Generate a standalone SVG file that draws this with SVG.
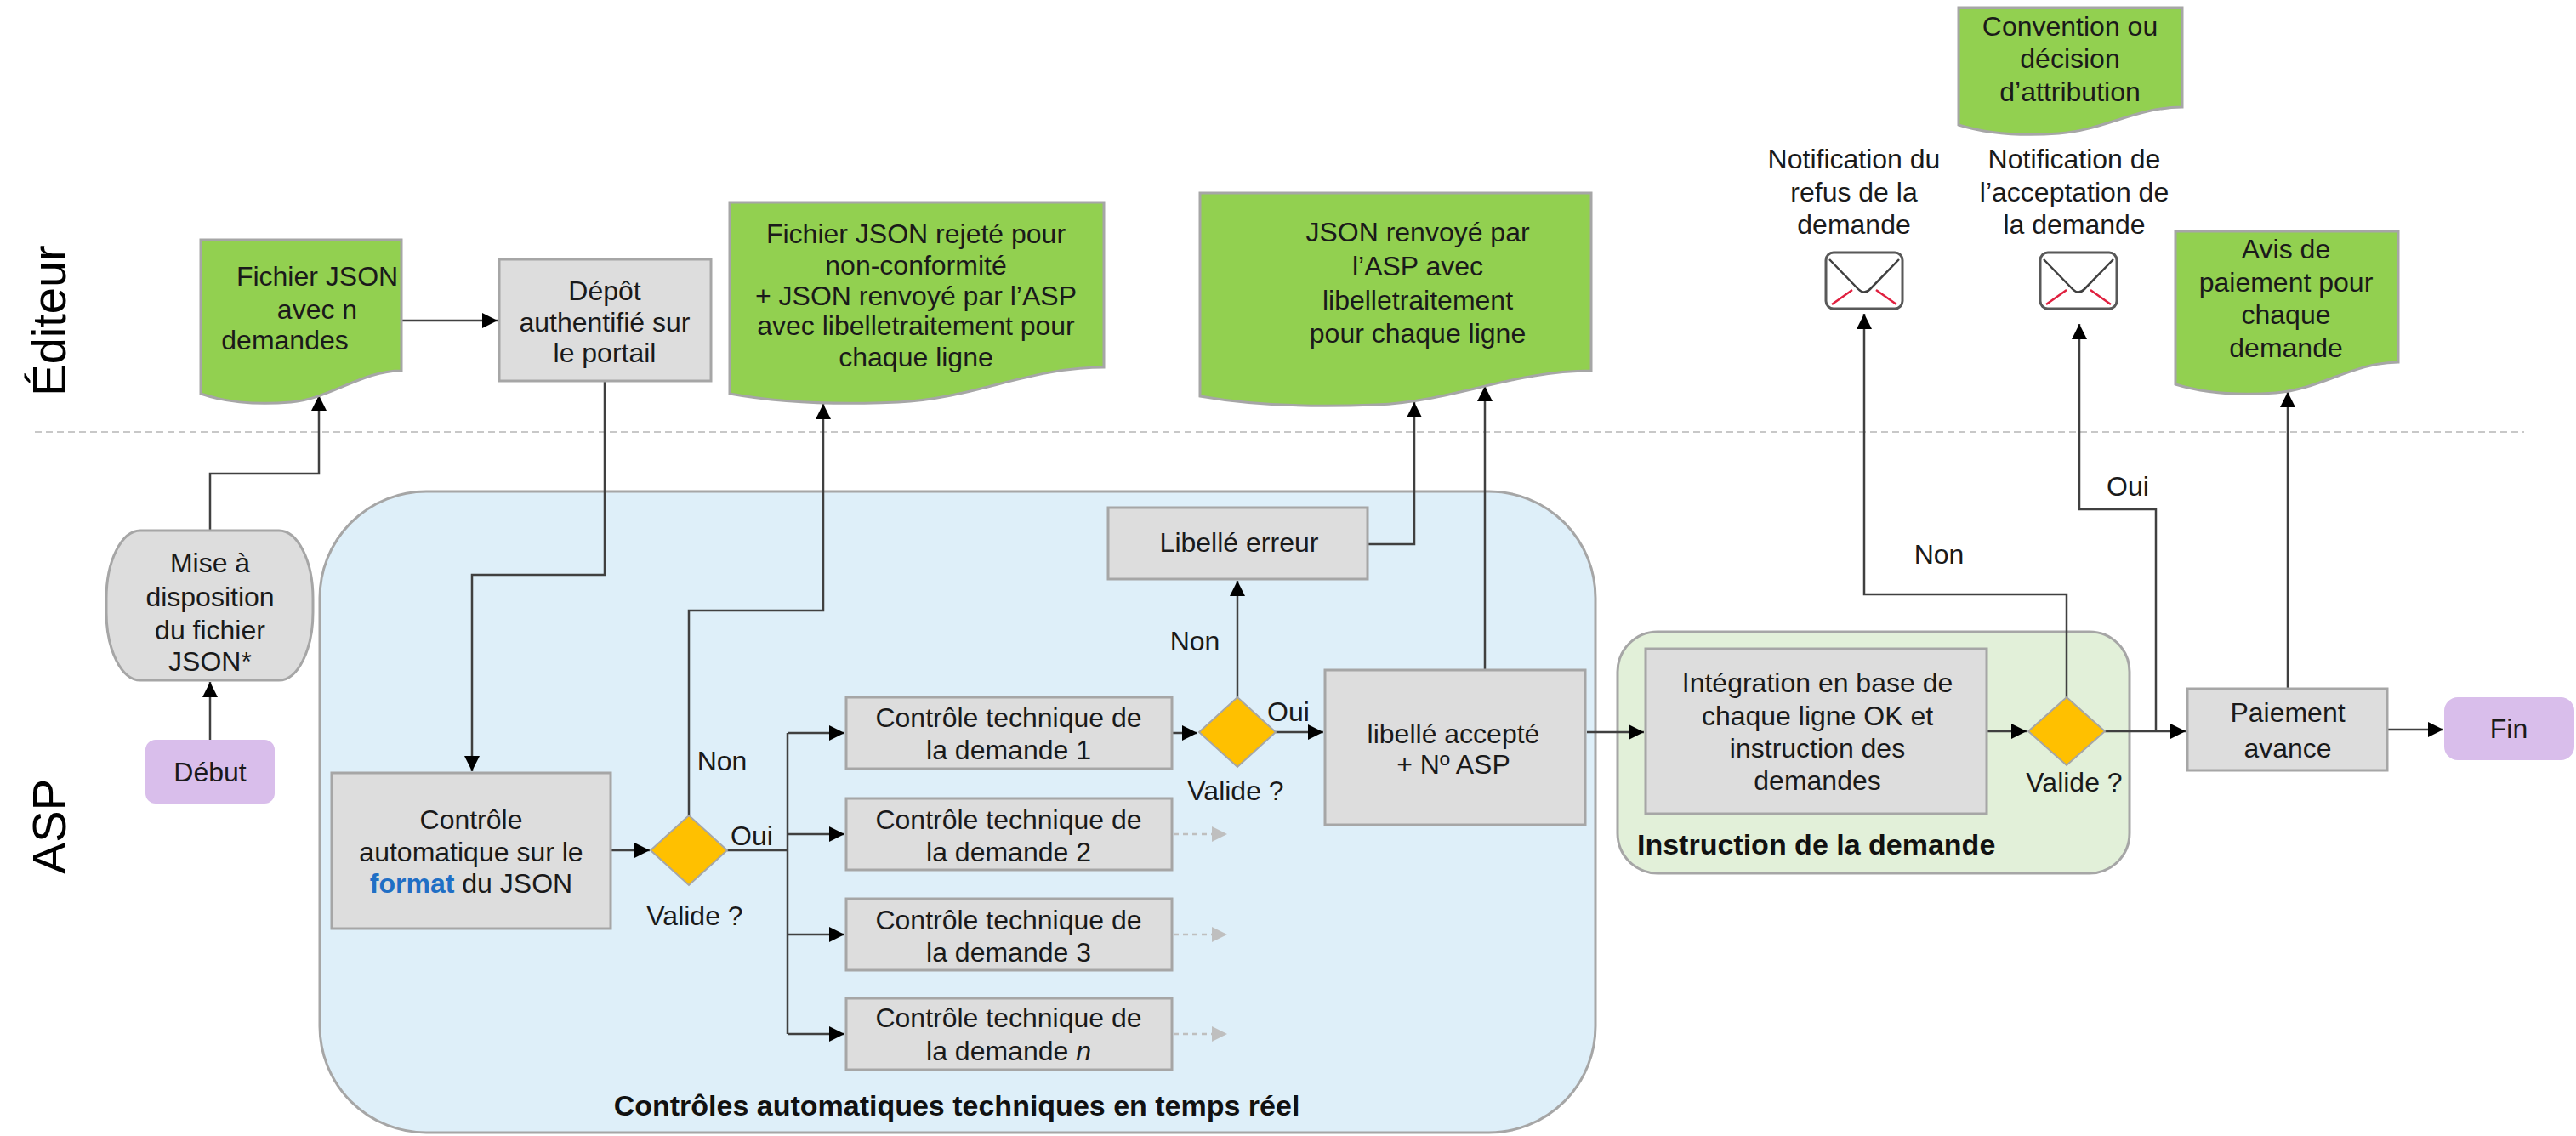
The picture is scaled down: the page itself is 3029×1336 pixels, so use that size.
<svg xmlns="http://www.w3.org/2000/svg" width="3029" height="1336" viewBox="0 0 3029 1336">
<defs>
<marker id="ah" viewBox="0 0 10 10" refX="10" refY="5" markerWidth="20" markerHeight="18" markerUnits="userSpaceOnUse" orient="auto"><path d="M0,0 L10,5 L0,10 z" fill="#000"/></marker>
<marker id="ahg" viewBox="0 0 10 10" refX="10" refY="5" markerWidth="20" markerHeight="18" markerUnits="userSpaceOnUse" orient="auto"><path d="M0,0 L10,5 L0,10 z" fill="#BFBFBF"/></marker>
</defs>
<style>
text{font-family:"Liberation Sans",Arial,sans-serif;font-size:32px;fill:#1a1a1a;text-anchor:middle}
.lane{font-size:56px;fill:#000}
.box{fill:#DDDDDD;stroke:#A6A6A6;stroke-width:3}
.doc{fill:#92D050;stroke:#A6A6A6;stroke-width:3}
.dia{fill:#FFC000;stroke:#A6A6A6;stroke-width:2}
.term{fill:#D9BEEB;stroke:#D9BEEB;stroke-width:2}
.ln{fill:none;stroke:#404040;stroke-width:2.5}
.arr{marker-end:url(#ah)}
.dot{fill:none;stroke:#BFBFBF;stroke-width:2.5;stroke-dasharray:6 5;marker-end:url(#ahg)}
.bold{font-weight:bold;fill:#111}
.env{fill:#fff;stroke:#595959;stroke-width:3}
.red{fill:none;stroke:#E0203F;stroke-width:2.5}
</style>
<rect width="3029" height="1336" fill="#fff"/>
<g id="lanes">
<text class="lane" transform="translate(77,377) rotate(-90)">Éditeur</text>
<text class="lane" transform="translate(77,972) rotate(-90)">ASP</text>
<line x1="41" y1="508" x2="2968" y2="508" stroke="#C8C8C8" stroke-width="2" stroke-dasharray="8 5"/>
</g>
<g id="container-controles">
<rect x="376" y="578" width="1500" height="754" rx="125" ry="125" fill="#DEEFF9" stroke="#A6A6A6" stroke-width="3"/>
<text class="bold" x="1125" y="1312" style="font-size:34px">Contrôles automatiques techniques en temps réel</text>
</g>
<g id="container-instruction">
<rect x="1902" y="743" width="602" height="284" rx="47" ry="47" fill="#E2F0D9" stroke="#A6A6A6" stroke-width="3"/>
<text class="bold" x="1925" y="1005" style="font-size:34px;text-anchor:start">Instruction de la demande</text>
</g>
<g id="connectors">
<path class="ln arr" d="M247,871 V802"/>
<path class="ln arr" d="M247,624 V557 H375 V465"/>
<path class="ln arr" d="M472,377 H585"/>
<path class="ln arr" d="M711,448 V676 H555 V907"/>
<path class="ln arr" d="M718,1000 H764"/>
<path class="ln arr" d="M810,959 V718 H968 V475"/>
<path class="ln" d="M855,1000 H926 M926,862 V1216"/>
<path class="ln arr" d="M926,862 H993"/>
<path class="ln arr" d="M926,981 H993"/>
<path class="ln arr" d="M926,1099 H993"/>
<path class="ln arr" d="M926,1216 H993"/>
<path class="dot" d="M1380,981 H1443"/>
<path class="dot" d="M1380,1099 H1443"/>
<path class="dot" d="M1380,1216 H1443"/>
<path class="ln arr" d="M1378,862 H1408"/>
<path class="ln arr" d="M1455,820 V683"/>
<path class="ln arr" d="M1500,861 H1556"/>
<path class="ln arr" d="M1608,640 H1663 V473"/>
<path class="ln arr" d="M1746,788 V454"/>
<path class="ln arr" d="M1866,861 H1933"/>
<path class="ln arr" d="M2336,860 H2383"/>
<path class="ln arr" d="M2430,820 V699 H2192 V369"/>
<path class="ln arr" d="M2475,860 H2570"/>
<path class="ln arr" d="M2535,860 V599 H2445 V381"/>
<path class="ln arr" d="M2690,810 V461"/>
<path class="ln arr" d="M2807,858 H2873"/>
</g>
<g id="debut">
<rect class="term" x="172" y="871" width="150" height="73" rx="11"/>
<text x="247" y="919">Début</text>
</g>
<g id="mise-a-disposition">
<path class="box" d="M165,624 H328 A40,80 0 0 1 368,704 V720 A40,80 0 0 1 328,800 H165 A40,80 0 0 1 125,720 V704 A40,80 0 0 1 165,624 Z"/>
<text x="247" y="673">Mise à</text>
<text x="247" y="713">disposition</text>
<text x="247" y="752">du fichier</text>
<text x="247" y="789">JSON*</text>
</g>
<g id="fichier-json">
<path class="doc" d="M236,282 H472 V436 C425,436 389,469 342,473 C307,476 271,475 236,463 Z"/>
<text x="373" y="336">Fichier JSON</text>
<text x="373" y="375">avec n</text>
<text x="335" y="411">demandes</text>
</g>
<g id="depot">
<rect class="box" x="587" y="305" width="249" height="143"/>
<text x="711" y="353">Dépôt</text>
<text x="711" y="390">authentifié sur</text>
<text x="711" y="426">le portail</text>
</g>
<g id="fichier-rejete">
<path class="doc" d="M858,238 H1298 V432 C1210,432 1144,469 1056,473 C990,476 924,475 858,463 Z"/>
<text x="1077" y="286">Fichier JSON rejeté pour</text>
<text x="1077" y="323">non-conformité</text>
<text x="1077" y="359">+ JSON renvoyé par l’ASP</text>
<text x="1077" y="394">avec libelletraitement pour</text>
<text x="1077" y="431">chaque ligne</text>
</g>
<g id="json-renvoye">
<path class="doc" d="M1411,227 H1871 V436 C1779,436 1710,472 1618,476 C1549,479 1480,478 1411,466 Z"/>
<text x="1667" y="284">JSON renvoyé par</text>
<text x="1667" y="324">l’ASP avec</text>
<text x="1667" y="364">libelletraitement</text>
<text x="1667" y="403">pour chaque ligne</text>
</g>
<g id="controle-format">
<rect class="box" x="390" y="909" width="328" height="183"/>
<text x="554" y="975">Contrôle</text>
<text x="554" y="1013">automatique sur le</text>
<text x="554" y="1050"><tspan font-weight="bold" fill="#1F6FC5">format</tspan> du JSON</text>
</g>
<g id="valide-1">
<polygon class="dia" points="810,959 855,1000 810,1041 765,1000"/>
<text x="817" y="1088">Valide ?</text>
<text x="849" y="906">Non</text>
<text x="884" y="994">Oui</text>
</g>
<g id="controle-1">
<rect class="box" x="995" y="820" width="383" height="84"/>
<text x="1186" y="855">Contrôle technique de</text>
<text x="1186" y="893">la demande 1</text>
</g>
<g id="controle-2">
<rect class="box" x="995" y="939" width="383" height="84"/>
<text x="1186" y="975">Contrôle technique de</text>
<text x="1186" y="1013">la demande 2</text>
</g>
<g id="controle-3">
<rect class="box" x="995" y="1057" width="383" height="84"/>
<text x="1186" y="1093">Contrôle technique de</text>
<text x="1186" y="1131">la demande 3</text>
</g>
<g id="controle-n">
<rect class="box" x="995" y="1174" width="383" height="84"/>
<text x="1186" y="1208">Contrôle technique de</text>
<text x="1186" y="1247">la demande <tspan font-style="italic">n</tspan></text>
</g>
<g id="valide-2">
<polygon class="dia" points="1455,820 1500,861 1455,902 1410,861"/>
<text x="1453" y="941">Valide ?</text>
<text x="1405" y="765">Non</text>
<text x="1515" y="848">Oui</text>
</g>
<g id="libelle-erreur">
<rect class="box" x="1303" y="597" width="305" height="84"/>
<text x="1457" y="649">Libellé erreur</text>
</g>
<g id="libelle-accepte">
<rect class="box" x="1558" y="788" width="306" height="182"/>
<text x="1709" y="874">libellé accepté</text>
<text x="1709" y="910">+ Nº ASP</text>
</g>
<g id="integration">
<rect class="box" x="1935" y="763" width="401" height="194"/>
<text x="2137" y="814">Intégration en base de</text>
<text x="2137" y="853">chaque ligne OK et</text>
<text x="2137" y="891">instruction des</text>
<text x="2137" y="929">demandes</text>
</g>
<g id="valide-3">
<polygon class="dia" points="2430,820 2475,860 2430,900 2385,860"/>
<text x="2439" y="931">Valide ?</text>
<text x="2280" y="663">Non</text>
<text x="2502" y="583">Oui</text>
</g>
<g id="notif-refus">
<text x="2180" y="198">Notification du</text>
<text x="2180" y="237">refus de la</text>
<text x="2180" y="275">demande</text>
<rect class="env" x="2147" y="297" width="90" height="66" rx="9"/>
<path class="ln" d="M2151,305 L2185,340 Q2192,347 2199,340 L2233,305" stroke="#595959" stroke-width="3"/>
<path class="red" d="M2154,358 L2178,341 M2206,341 L2230,358"/>
</g>
<g id="notif-acceptation">
<text x="2439" y="198">Notification de</text>
<text x="2439" y="237">l’acceptation de</text>
<text x="2439" y="275">la demande</text>
<rect class="env" x="2399" y="297" width="90" height="66" rx="9"/>
<path class="ln" d="M2403,305 L2437,340 Q2444,347 2451,340 L2485,305" stroke="#595959" stroke-width="3"/>
<path class="red" d="M2406,358 L2430,341 M2458,341 L2482,358"/>
</g>
<g id="convention">
<path class="doc" d="M2303,9 H2566 V126 C2513,126 2474,153 2421,157 C2382,160 2342,159 2303,147 Z"/>
<text x="2434" y="42">Convention ou</text>
<text x="2434" y="80">décision</text>
<text x="2434" y="119">d’attribution</text>
</g>
<g id="avis-paiement">
<path class="doc" d="M2558,272 H2820 V426 C2768,426 2728,458 2676,462 C2637,465 2597,464 2558,452 Z"/>
<text x="2688" y="304">Avis de</text>
<text x="2688" y="343">paiement pour</text>
<text x="2688" y="381">chaque</text>
<text x="2688" y="420">demande</text>
</g>
<g id="paiement">
<rect class="box" x="2572" y="810" width="235" height="96"/>
<text x="2690" y="849">Paiement</text>
<text x="2690" y="891">avance</text>
</g>
<g id="fin">
<rect class="term" x="2875" y="821" width="151" height="72" rx="15"/>
<text x="2950" y="868">Fin</text>
</g>
</svg>
